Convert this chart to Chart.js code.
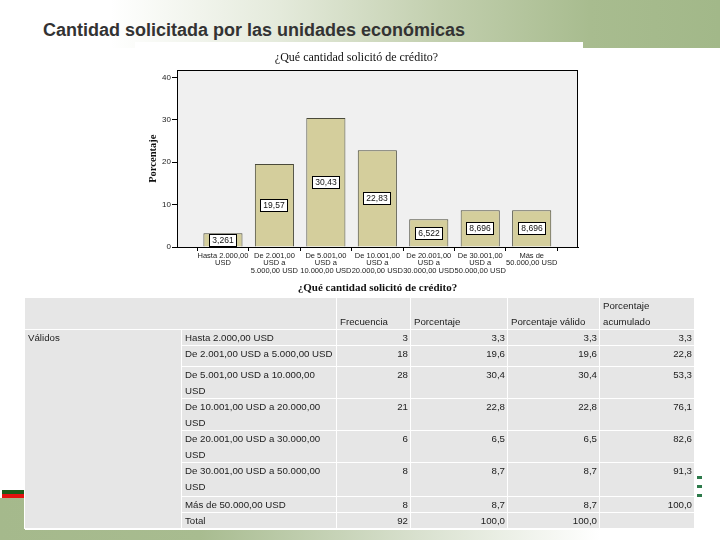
<!DOCTYPE html>
<html>
<head>
<meta charset="utf-8">
<script src="https://cdn.jsdelivr.net/npm/chart.js@4.4.0/dist/chart.umd.min.js"></script>
<style>
  body { margin: 0; width: 720px; height: 540px; position: relative; overflow: hidden; background: #fff; font-family: "Liberation Sans", Arial, sans-serif; }
  #topBand { position: absolute; left: 0; top: 0; width: 720px; height: 48px;
    background: linear-gradient(to right, #ffffff 0px, #ffffff 110px, #e4eadb 280px, #c2cfae 440px, #a8bc8f 590px, #a2b889 720px); }
  #bottomBand { position: absolute; left: 0; top: 498px; width: 720px; height: 42px;
    background: linear-gradient(to right, #a5b98c 0px, #a8bc90 200px, #d9e1cf 420px, #ffffff 600px); }
  #flagG { position: absolute; left: 2px; top: 490px; width: 23px; height: 4px; background: #1d5a18; }
  #flagR { position: absolute; left: 2px; top: 494px; width: 23px; height: 4px; background: #e3120f; }
  .dash { position: absolute; left: 697px; width: 5px; height: 3px; background: #2d7a4a; }
  #title { position: absolute; left: 43px; top: 20px; font-size: 18px; font-weight: bold; color: #333; white-space: nowrap; }
  #chartBox { position: absolute; left: 135px; top: 42px; width: 448px; height: 256px; background: #fff; }
  #freqTable { position: absolute; left: 25px; top: 298px; width: 670px; border-collapse: collapse; table-layout: fixed;
    font-size: 9.7px; color: #222; background: #fff; box-shadow: 0 1px 0 #fff, 0 -1px 0 #fff, 1px 0 0 #fff, -1px 0 0 #fff; }
  #freqTable td { background: #e6e6e6; border: none; padding: 0 3px; line-height: 16px; vertical-align: top; overflow: hidden;
    box-shadow: inset -1px -1px 0 #fff; }
  #freqTable td.num { text-align: right; padding-right: 3px; }
  #freqTable tr.head td { vertical-align: bottom; }
</style>
</head>
<body>
<div id="topBand"></div>
<div id="bottomBand"></div>
<div id="flagG"></div>
<div id="flagR"></div>
<div class="dash" style="top:476px"></div>
<div class="dash" style="top:485px"></div>
<div class="dash" style="top:494px"></div>
<div id="title">Cantidad solicitada por las unidades económicas</div>
<div id="chartBox"><canvas id="barChart" width="448" height="256"></canvas></div>
<table id="freqTable">
  <colgroup>
    <col style="width:157px"><col style="width:155px"><col style="width:74px">
    <col style="width:97px"><col style="width:92px"><col style="width:95px">
  </colgroup>
  <tbody id="tableBody"></tbody>
</table>
<script>
// datos del gráfico
var categories = [
    ['Hasta 2.000,00', 'USD'],
    ['De 2.001,00', 'USD a', '5.000,00 USD'],
    ['De 5.001,00', 'USD a', '10.000,00 USD'],
    ['De 10.001,00', 'USD a', '20.000,00 USD'],
    ['De 20.001,00', 'USD a', '30.000,00 USD'],
    ['De 30.001,00', 'USD a', '50.000,00 USD'],
    ['Más de', '50.000,00 USD']
];
var percentValues = [3.261, 19.57, 30.43, 22.83, 6.522, 8.696, 8.696];
var yTicks = [0, 10, 20, 30, 40];
var chartTitle = '¿Qué cantidad solicitó de crédito?';

// datos de la tabla
var tableHeaders = ['Frecuencia', 'Porcentaje', 'Porcentaje válido', 'Porcentaje acumulado'];
var groupLabel = 'Válidos';
var rowLabels = [
    'Hasta 2.000,00 USD',
    'De 2.001,00 USD a 5.000,00 USD',
    'De 5.001,00 USD a 10.000,00 USD',
    'De 10.001,00 USD a 20.000,00 USD',
    'De 20.001,00 USD a 30.000,00 USD',
    'De 30.001,00 USD a 50.000,00 USD',
    'Más de 50.000,00 USD',
    'Total'
];
var frequencies = ['3', '18', '28', '21', '6', '8', '8', '92'];
var percents = ['3,3', '19,6', '30,4', '22,8', '6,5', '8,7', '8,7', '100,0'];
var validPercents = ['3,3', '19,6', '30,4', '22,8', '6,5', '8,7', '8,7', '100,0'];
var cumulativePercents = ['3,3', '22,8', '53,3', '76,1', '82,6', '91,3', '100,0', ''];

var rowHeights = [16, 21, 32, 32, 32, 34, 16, 16];

function buildTable() {
    var body = document.getElementById('tableBody');
    var html = '<tr class="head" style="height:32px"><td colspan="2"></td>';
    tableHeaders.forEach(function(h) {
        html += '<td>' + h + '</td>';
    });
    html += '</tr>';
    rowLabels.forEach(function(label, i) {
        html += '<tr style="height:' + rowHeights[i] + 'px">';
        if (i === 0) html += '<td rowspan="' + rowLabels.length + '">' + groupLabel + '</td>';
        html += '<td>' + label + '</td>';
        html += '<td class="num">' + frequencies[i] + '</td>';
        html += '<td class="num">' + percents[i] + '</td>';
        html += '<td class="num">' + validPercents[i] + '</td>';
        html += '<td class="num">' + cumulativePercents[i] + '</td>';
        html += '</tr>';
    });
    body.innerHTML = html;
}

var plotFrame = {
    id: 'plotFrame',
    beforeDatasetsDraw: function(chart) {
        var a = chart.chartArea, ctx = chart.ctx;
        ctx.save();
        ctx.fillStyle = '#f0f0f0';
        ctx.fillRect(a.left, a.top, a.right - a.left, a.bottom - a.top);
        ctx.restore();
    },
    afterDatasetsDraw: function(chart) {
        var a = chart.chartArea, ctx = chart.ctx;
        ctx.save();
        ctx.strokeStyle = '#000';
        ctx.lineWidth = 1;
        ctx.strokeRect(Math.round(a.left) + 0.5, Math.round(a.top) + 0.5,
            Math.round(a.right - a.left) - 1, Math.round(a.bottom - a.top));
        // etiquetas de valor en el centro de cada barra
        ctx.font = '8.5px "Liberation Sans", Arial, sans-serif';
        ctx.textAlign = 'center';
        ctx.textBaseline = 'middle';
        chart.getDatasetMeta(0).data.forEach(function(bar, i) {
            var txt = String(percentValues[i]).replace('.', ',');
            var w = ctx.measureText(txt).width + 6;
            var h = 12;
            var cy = Math.round((bar.y + bar.base) / 2);
            var cx = Math.round(bar.x);
            ctx.fillStyle = '#fff';
            ctx.fillRect(cx - w / 2, cy - h / 2, w, h);
            ctx.strokeStyle = '#000';
            ctx.strokeRect(Math.round(cx - w / 2) + 0.5, cy - h / 2 + 0.5, Math.round(w), h);
            ctx.fillStyle = '#111';
            ctx.fillText(txt, cx, cy + 0.5);
        });
        ctx.restore();
    }
};

function initializeBarChart() {
    var ctx = document.getElementById('barChart').getContext('2d');
    new Chart(ctx, {
        type: 'bar',
        data: {
            datasets: [{
                data: percentValues.map(function(v, i) { return { x: i, y: v }; }),
                backgroundColor: '#d4ce9c',
                borderColor: '#4a4a3a',
                borderWidth: 1,
                barPercentage: 0.76,
                categoryPercentage: 1
            }]
        },
        options: {
            responsive: false,
            animation: false,
            layout: { padding: { left: 0, right: 5, top: 0, bottom: 0 } },
            scales: {
                x: {
                    type: 'linear',
                    offset: false,
                    min: -0.893,
                    max: 6.9,
                    afterBuildTicks: function(scale) {
                        scale.ticks = categories.map(function(c, i) { return { value: i }; });
                    },
                    afterFit: function(scale) { scale.height = 51; },
                    grid: { display: true, drawOnChartArea: false, tickLength: 4, color: '#000' },
                    border: { display: true, color: '#000' },
                    ticks: {
                        autoSkip: false,
                        maxRotation: 0,
                        padding: 1,
                        color: '#222',
                        font: { family: '"Liberation Sans", Arial, sans-serif', size: 7.5, lineHeight: 1 },
                        callback: function(v) { return categories[v]; }
                    },
                    title: {
                        display: true,
                        text: chartTitle,
                        color: '#111',
                        padding: { top: 0, bottom: 3 },
                        font: { family: '"Liberation Serif", "Times New Roman", serif', size: 11, weight: 'bold' }
                    }
                },
                y: {
                    min: 0,
                    max: 41.65,
                    afterBuildTicks: function(scale) {
                        scale.ticks = yTicks.map(function(v) { return { value: v }; });
                    },
                    afterFit: function(scale) { scale.width = 42; },
                    grid: { display: true, drawOnChartArea: false, tickLength: 5, color: '#000' },
                    border: { display: true, color: '#000' },
                    ticks: {
                        padding: 1,
                        color: '#222',
                        font: { family: '"Liberation Sans", Arial, sans-serif', size: 8 }
                    },
                    title: {
                        display: true,
                        text: 'Porcentaje',
                        color: '#111',
                        padding: { top: 12, bottom: 0 },
                        font: { family: '"Liberation Serif", "Times New Roman", serif', size: 10.5, weight: 'bold' }
                    }
                }
            },
            plugins: {
                legend: { display: false },
                tooltip: { enabled: false },
                title: {
                    display: true,
                    text: chartTitle,
                    color: '#111',
                    padding: { top: 9, bottom: 5 },
                    font: { family: '"Liberation Serif", "Times New Roman", serif', size: 12, weight: 'normal' }
                }
            }
        },
        plugins: [plotFrame]
    });
}

document.addEventListener('DOMContentLoaded', function() {
    buildTable();
    initializeBarChart();
});
</script>
</body>
</html>
